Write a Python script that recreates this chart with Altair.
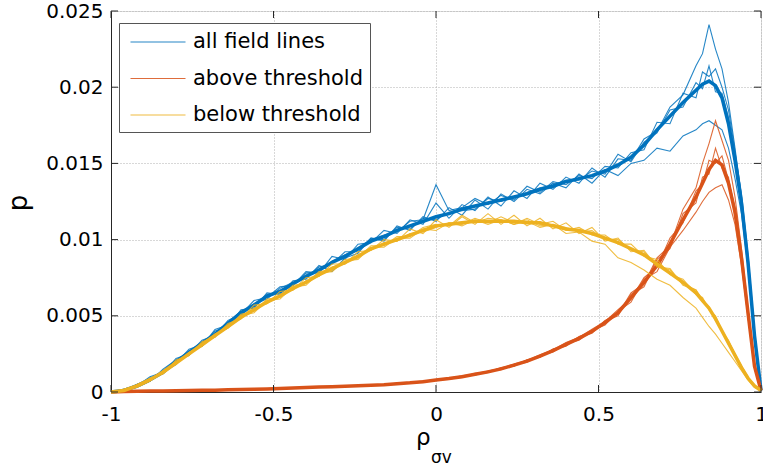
import altair as alt
import pandas as pd

# ---------------- data ----------------
X = [-1.00, -0.96, -0.92, -0.88, -0.84, -0.80, -0.76, -0.72, -0.68, -0.64,
     -0.60, -0.56, -0.52, -0.48, -0.44, -0.40, -0.36, -0.32, -0.28, -0.24,
     -0.20, -0.16, -0.12, -0.08, -0.04, 0.00, 0.04, 0.08, 0.12, 0.16,
     0.20, 0.24, 0.28, 0.32, 0.36, 0.40, 0.44, 0.48, 0.52, 0.56,
     0.60, 0.64, 0.68, 0.72, 0.76, 0.80, 0.82, 0.84, 0.86, 0.88,
     0.90, 0.92, 0.94, 0.96, 0.98, 1.00]

SERIES = ["all field lines", "above threshold", "below threshold"]
COLORS = ["#0072BD", "#D95319", "#EDB120"]

ALL_MEAN = [0, 0.0001, 0.0004, 0.0008, 0.0013, 0.0020, 0.0026, 0.0032, 0.0038, 0.0045,
            0.0052, 0.0057, 0.0063, 0.0066, 0.0071, 0.0076, 0.0080, 0.0085, 0.0089, 0.0094,
            0.0099, 0.0102, 0.0106, 0.0109, 0.0112, 0.0115, 0.0117, 0.0120, 0.0122, 0.0124,
            0.0126, 0.0128, 0.0130, 0.0133, 0.0135, 0.0138, 0.0140, 0.0142, 0.0145, 0.0149,
            0.0154, 0.0162, 0.0172, 0.0181, 0.0190, 0.0198, 0.0202, 0.0204, 0.0201, 0.0193,
            0.0176, 0.0152, 0.0124, 0.0085, 0.0037, 0.0001]
ALL_RUN1 = [0, 0.0001, 0.0005, 0.0009, 0.0012, 0.0022, 0.0025, 0.0034, 0.0037, 0.0047,
            0.0051, 0.0060, 0.0062, 0.0069, 0.0070, 0.0079, 0.0078, 0.0089, 0.0087, 0.0097,
            0.0098, 0.0106, 0.0104, 0.0113, 0.0110, 0.0124, 0.0114, 0.0123, 0.0119, 0.0128,
            0.0122, 0.0132, 0.0127, 0.0137, 0.0133, 0.0141, 0.0137, 0.0147, 0.0141, 0.0153,
            0.0152, 0.0166, 0.0171, 0.0187, 0.0195, 0.0214, 0.0222, 0.0241, 0.0225, 0.0212,
            0.0190, 0.0160, 0.0128, 0.0088, 0.0038, 0.0001]
ALL_RUN2 = [0, 0.0001, 0.0003, 0.0007, 0.0014, 0.0019, 0.0028, 0.0031, 0.0040, 0.0043,
            0.0054, 0.0055, 0.0065, 0.0064, 0.0073, 0.0074, 0.0083, 0.0079, 0.0088, 0.0091,
            0.0101, 0.0099, 0.0109, 0.0106, 0.0115, 0.0112, 0.0121, 0.0116, 0.0126, 0.0120,
            0.0130, 0.0125, 0.0133, 0.0130, 0.0137, 0.0134, 0.0143, 0.0137, 0.0146, 0.0142,
            0.0150, 0.0152, 0.0160, 0.0158, 0.0168, 0.0172, 0.0176, 0.0178, 0.0175, 0.0172,
            0.0160, 0.0140, 0.0117, 0.0082, 0.0036, 0.0001]
ALL_RUN3 = [0, 0.0002, 0.0004, 0.0010, 0.0013, 0.0018, 0.0027, 0.0030, 0.0041, 0.0044,
            0.0050, 0.0058, 0.0061, 0.0068, 0.0072, 0.0075, 0.0082, 0.0084, 0.0092, 0.0092,
            0.0100, 0.0103, 0.0105, 0.0112, 0.0113, 0.0136, 0.0119, 0.0121, 0.0127, 0.0123,
            0.0129, 0.0126, 0.0135, 0.0131, 0.0138, 0.0136, 0.0142, 0.0140, 0.0148, 0.0147,
            0.0157, 0.0159, 0.0177, 0.0176, 0.0196, 0.0193, 0.0210, 0.0207, 0.0212, 0.0200,
            0.0185, 0.0158, 0.0130, 0.0090, 0.0040, 0.0001]
ALL_RUN4 = [0, 0.0001, 0.0005, 0.0007, 0.0015, 0.0021, 0.0024, 0.0033, 0.0036, 0.0046,
            0.0053, 0.0056, 0.0064, 0.0065, 0.0070, 0.0078, 0.0079, 0.0086, 0.0090, 0.0093,
            0.0101, 0.0100, 0.0108, 0.0107, 0.0114, 0.0113, 0.0118, 0.0119, 0.0120, 0.0127,
            0.0125, 0.0128, 0.0131, 0.0134, 0.0136, 0.0139, 0.0139, 0.0145, 0.0143, 0.0156,
            0.0151, 0.0164, 0.0170, 0.0185, 0.0187, 0.0203, 0.0199, 0.0214, 0.0197, 0.0196,
            0.0180, 0.0155, 0.0126, 0.0086, 0.0038, 0.0001]

ABOVE_MEAN = [0, 0.00003, 0.00005, 0.00006, 0.00007, 0.00008, 0.00010, 0.00011, 0.00012, 0.00014,
              0.00016, 0.00018, 0.00020, 0.00023, 0.00026, 0.00030, 0.00032, 0.00035, 0.00038, 0.00041,
              0.00044, 0.00048, 0.00054, 0.00060, 0.00068, 0.00078, 0.00088, 0.00100, 0.00116, 0.00132,
              0.00152, 0.00176, 0.00203, 0.00235, 0.00272, 0.00312, 0.00352, 0.00398, 0.00455, 0.0052,
              0.0062, 0.0072, 0.0083, 0.0097, 0.0113, 0.0128, 0.0137, 0.0146, 0.0152, 0.0149,
              0.0137, 0.0118, 0.0088, 0.0052, 0.0017, 0.0001]
ABOVE_RUN1 = [0, 0.00002, 0.00006, 0.00005, 0.00008, 0.00007, 0.00011, 0.00010, 0.00014, 0.00012,
              0.00018, 0.00017, 0.00023, 0.00021, 0.00029, 0.00028, 0.00036, 0.00033, 0.00041, 0.00039,
              0.00049, 0.00046, 0.00058, 0.00057, 0.00074, 0.00075, 0.00094, 0.00097, 0.00123, 0.00128,
              0.00160, 0.00171, 0.00212, 0.00229, 0.00282, 0.00305, 0.00365, 0.00392, 0.00470, 0.0051,
              0.0065, 0.0071, 0.0088, 0.0096, 0.0120, 0.0134, 0.0150, 0.0163, 0.0178, 0.0165,
              0.0152, 0.0128, 0.0094, 0.0055, 0.0018, 0.0001]
ABOVE_RUN2 = [0, 0.00004, 0.00004, 0.00007, 0.00006, 0.00009, 0.00009, 0.00012, 0.00011, 0.00016,
              0.00015, 0.00020, 0.00018, 0.00025, 0.00024, 0.00032, 0.00030, 0.00037, 0.00036, 0.00043,
              0.00042, 0.00050, 0.00051, 0.00063, 0.00064, 0.00081, 0.00083, 0.00104, 0.00110, 0.00137,
              0.00146, 0.00181, 0.00196, 0.00240, 0.00262, 0.00318, 0.00340, 0.00404, 0.00440, 0.0053,
              0.0059, 0.0074, 0.0079, 0.0095, 0.0106, 0.0118, 0.0125, 0.0131, 0.0134, 0.0136,
              0.0126, 0.0110, 0.0083, 0.0049, 0.0016, 0.0001]
ABOVE_RUN3 = [0, 0.00003, 0.00006, 0.00006, 0.00009, 0.00008, 0.00012, 0.00011, 0.00013, 0.00015,
              0.00017, 0.00019, 0.00022, 0.00024, 0.00027, 0.00031, 0.00034, 0.00036, 0.00040, 0.00042,
              0.00047, 0.00050, 0.00056, 0.00062, 0.00070, 0.00082, 0.00090, 0.00106, 0.00118, 0.00138,
              0.00155, 0.00183, 0.00207, 0.00245, 0.00276, 0.00325, 0.00358, 0.00412, 0.00462, 0.0054,
              0.0061, 0.0075, 0.0082, 0.0101, 0.0111, 0.0132, 0.0136, 0.0152, 0.0150, 0.0155,
              0.0139, 0.0121, 0.0087, 0.0053, 0.0017, 0.0001]
ABOVE_RUN4 = [0, 0.00002, 0.00005, 0.00007, 0.00006, 0.00010, 0.00009, 0.00010, 0.00013, 0.00013,
              0.00017, 0.00016, 0.00021, 0.00020, 0.00026, 0.00027, 0.00033, 0.00033, 0.00039, 0.00040,
              0.00046, 0.00045, 0.00055, 0.00058, 0.00071, 0.00076, 0.00091, 0.00096, 0.00120, 0.00128,
              0.00158, 0.00170, 0.00210, 0.00228, 0.00281, 0.00300, 0.00360, 0.00385, 0.00465, 0.0050,
              0.0064, 0.0069, 0.0087, 0.0094, 0.0117, 0.0124, 0.0141, 0.0143, 0.0160, 0.0147,
              0.0141, 0.0115, 0.0090, 0.0050, 0.0018, 0.0001]

BELOW_MEAN = [0, 0.0001, 0.0004, 0.0008, 0.0013, 0.0019, 0.0025, 0.0031, 0.0037, 0.0043,
              0.0049, 0.0054, 0.0059, 0.0063, 0.0068, 0.0072, 0.0077, 0.0081, 0.0085, 0.0089,
              0.0094, 0.0097, 0.0100, 0.0103, 0.0106, 0.0109, 0.0110, 0.0111, 0.0112, 0.0112,
              0.0112, 0.0112, 0.0111, 0.0111, 0.0109, 0.0107, 0.0106, 0.0104, 0.0101, 0.0098,
              0.0094, 0.0090, 0.0084, 0.0078, 0.0072, 0.0065, 0.0060, 0.0055, 0.0048, 0.0040,
              0.0032, 0.0024, 0.0016, 0.0009, 0.0004, 0.0001]
BELOW_RUN1 = [0, 0.0001, 0.0005, 0.0009, 0.0012, 0.0021, 0.0024, 0.0033, 0.0036, 0.0045,
              0.0048, 0.0057, 0.0058, 0.0066, 0.0067, 0.0075, 0.0076, 0.0084, 0.0084, 0.0092,
              0.0093, 0.0100, 0.0099, 0.0107, 0.0104, 0.0113, 0.0108, 0.0115, 0.0110, 0.0117,
              0.0110, 0.0116, 0.0109, 0.0114, 0.0107, 0.0111, 0.0104, 0.0108, 0.0099, 0.0101,
              0.0092, 0.0093, 0.0082, 0.0081, 0.0070, 0.0067, 0.0061, 0.0054, 0.0049, 0.0039,
              0.0033, 0.0023, 0.0017, 0.0009, 0.0004, 0.0001]
BELOW_RUN2 = [0, 0.0001, 0.0003, 0.0007, 0.0014, 0.0018, 0.0026, 0.0030, 0.0038, 0.0042,
              0.0050, 0.0052, 0.0060, 0.0061, 0.0069, 0.0070, 0.0078, 0.0079, 0.0086, 0.0087,
              0.0095, 0.0095, 0.0101, 0.0101, 0.0107, 0.0106, 0.0111, 0.0109, 0.0113, 0.0110,
              0.0113, 0.0110, 0.0112, 0.0108, 0.0110, 0.0104, 0.0105, 0.0099, 0.0097, 0.0088,
              0.0085, 0.0080, 0.0074, 0.0070, 0.0062, 0.0055, 0.0049, 0.0043, 0.0038, 0.0032,
              0.0026, 0.0020, 0.0014, 0.0008, 0.0003, 0.0001]
BELOW_RUN3 = [0, 0.0002, 0.0004, 0.0008, 0.0014, 0.0020, 0.0025, 0.0032, 0.0038, 0.0042,
              0.0051, 0.0053, 0.0061, 0.0062, 0.0070, 0.0071, 0.0079, 0.0080, 0.0087, 0.0088,
              0.0096, 0.0096, 0.0102, 0.0102, 0.0108, 0.0110, 0.0109, 0.0116, 0.0111, 0.0114,
              0.0113, 0.0110, 0.0114, 0.0110, 0.0112, 0.0106, 0.0108, 0.0103, 0.0103, 0.0097,
              0.0097, 0.0089, 0.0087, 0.0077, 0.0074, 0.0064, 0.0062, 0.0054, 0.0050, 0.0040,
              0.0034, 0.0025, 0.0017, 0.0010, 0.0004, 0.0001]
BELOW_RUN4 = [0, 0.0001, 0.0004, 0.0009, 0.0012, 0.0019, 0.0026, 0.0030, 0.0037, 0.0044,
              0.0048, 0.0055, 0.0058, 0.0064, 0.0067, 0.0073, 0.0076, 0.0082, 0.0084, 0.0090,
              0.0093, 0.0098, 0.0099, 0.0104, 0.0105, 0.0108, 0.0111, 0.0110, 0.0114, 0.0111,
              0.0115, 0.0111, 0.0113, 0.0109, 0.0110, 0.0108, 0.0105, 0.0106, 0.0100, 0.0100,
              0.0093, 0.0092, 0.0083, 0.0080, 0.0071, 0.0067, 0.0059, 0.0056, 0.0047, 0.0041,
              0.0031, 0.0025, 0.0015, 0.0009, 0.0004, 0.0001]

X_TICKS = [-1, -0.5, 0, 0.5, 1]
Y_TICKS = [0, 0.005, 0.01, 0.015, 0.02, 0.025]

MEANS = [ALL_MEAN, ABOVE_MEAN, BELOW_MEAN]
RUNS = [[ALL_RUN1, ALL_RUN2, ALL_RUN3, ALL_RUN4],
        [ABOVE_RUN1, ABOVE_RUN2, ABOVE_RUN3, ABOVE_RUN4],
        [BELOW_RUN1, BELOW_RUN2, BELOW_RUN3, BELOW_RUN4]]

# ---------------- layout ----------------
W, H = 650, 381
FONT = "DejaVu Sans"
AXC = "#262626"

xscale = alt.Scale(domain=[-1, 1], nice=False, zero=False)
yscale = alt.Scale(domain=[0, 0.025], nice=False, zero=False)
cscale = alt.Scale(domain=SERIES, range=COLORS)

xaxis = alt.Axis(values=X_TICKS, labelExpr="'' + datum.value", title=None,
                 ticks=False, tickSize=0, grid=True, gridDash=[1, 2],
                 gridColor="#b0b0b0", gridOpacity=1, domainColor=AXC,
                 labelFont=FONT, labelFontSize=20, labelColor="#000000",
                 labelPadding=12, labelFlush=False, labelOverlap=False)
yaxis = alt.Axis(values=Y_TICKS, labelExpr="'' + datum.value", title=None,
                 ticks=False, tickSize=0, grid=True, gridDash=[1, 2],
                 gridColor="#b0b0b0", gridOpacity=1, domainColor=AXC,
                 labelFont=FONT, labelFontSize=20, labelColor="#000000",
                 labelPadding=8, labelFlush=False, labelOverlap=False)

# legend: a long horizontal stroke drawn from a small symbol box
legend = alt.Legend(title=None, orient="none", legendX=8, legendY=12,
                    padding=7, strokeColor="#555555", fillColor="white",
                    symbolType="M-2.5,0H2.5", symbolSize=484, symbolStrokeWidth=1.2,
                    symbolOffset=20, symbolOpacity=0.85,
                    labelFont=FONT, labelFontSize=21,
                    labelColor="#000000", labelOffset=23, labelLimit=0,
                    rowPadding=14.5, cornerRadius=0)

layers = []
for k, name in enumerate(SERIES):
    thin_rows = []
    for r, run in enumerate(RUNS[k]):
        for xv, pv in zip(X, run):
            thin_rows.append({"x": xv, "p": pv, "series": name, "run": r})
    mean_rows = [{"x": xv, "p": pv, "series": name} for xv, pv in zip(X, MEANS[k])]

    thin = alt.Chart(pd.DataFrame(thin_rows)).mark_line(strokeWidth=1.1, opacity=0.85).encode(
        x=alt.X("x:Q", scale=xscale, axis=xaxis),
        y=alt.Y("p:Q", scale=yscale, axis=yaxis),
        color=alt.Color("series:N", scale=cscale, legend=legend if k == 0 else None),
        detail="run:N",
    )
    thick = alt.Chart(pd.DataFrame(mean_rows)).mark_line(strokeWidth=3.5).encode(
        x=alt.X("x:Q", scale=xscale, axis=xaxis),
        y=alt.Y("p:Q", scale=yscale, axis=yaxis),
        color=alt.Color("series:N", scale=cscale, legend=None),
    )
    layers += [thin, thick]

# inward tick marks (MATLAB style) on all four sides
yt = pd.DataFrame({"p": Y_TICKS})
xt = pd.DataFrame({"x": X_TICKS})
tick_y_left = alt.Chart(yt).mark_rule(color=AXC, strokeWidth=1).encode(
    y=alt.Y("p:Q", scale=yscale), x=alt.value(0), x2=alt.value(7))
tick_y_right = alt.Chart(yt).mark_rule(color=AXC, strokeWidth=1).encode(
    y=alt.Y("p:Q", scale=yscale), x=alt.value(W - 7), x2=alt.value(W))
tick_x_bottom = alt.Chart(xt).mark_rule(color=AXC, strokeWidth=1).encode(
    x=alt.X("x:Q", scale=xscale), y=alt.value(H - 7), y2=alt.value(H))
tick_x_top = alt.Chart(xt).mark_rule(color=AXC, strokeWidth=1).encode(
    x=alt.X("x:Q", scale=xscale), y=alt.value(0), y2=alt.value(7))

# axis titles
rho = alt.Chart(pd.DataFrame({"t": ["ρ"]})).mark_text(
    font=FONT, fontSize=23, align="left", baseline="alphabetic", color="#000000"
).encode(text="t:N", x=alt.value(305), y=alt.value(434))
sub = alt.Chart(pd.DataFrame({"t": ["σv"]})).mark_text(
    font=FONT, fontSize=17, align="left", baseline="alphabetic", color="#000000"
).encode(text="t:N", x=alt.value(320), y=alt.value(452))
ptitle = alt.Chart(pd.DataFrame({"t": ["p"]})).mark_text(
    font=FONT, fontSize=26, align="center", baseline="middle", angle=270, color="#000000"
).encode(text="t:N", x=alt.value(-92), y=alt.value(192))

chart = alt.layer(
    *layers, tick_y_left, tick_y_right, tick_x_bottom, tick_x_top, rho, sub, ptitle
).properties(
    width=W, height=H,
    padding={"left": 111, "top": 11, "right": 2, "bottom": 77},
    autosize=alt.AutoSizeParams(type="none"),
).configure_view(
    stroke=AXC, strokeWidth=1
).configure(
    font=FONT, background="white"
)

chart.save("out.html", embed_options={"renderer": "svg", "actions": False})
